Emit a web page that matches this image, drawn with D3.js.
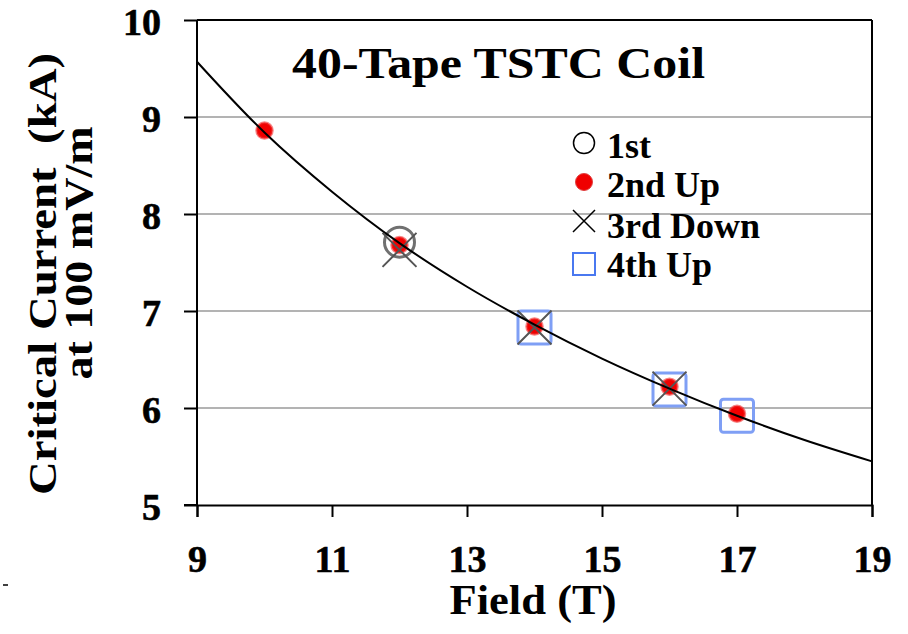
<!DOCTYPE html>
<html><head><meta charset="utf-8">
<script src="https://cdn.jsdelivr.net/npm/d3@7"></script>
<style>body{margin:0;background:#fff}svg{display:block}text{font-family:"Liberation Serif","Times New Roman",serif;font-weight:bold;fill:#000}</style>
</head><body>
<script>
const xTicks = [9, 11, 13, 15, 17, 19];
const yTicks = [5, 6, 7, 8, 9, 10];
const firstX = [12], firstY = [7.71];
const secondX = [10, 12, 14, 16, 17], secondY = [8.86, 7.68, 6.84, 6.22, 5.94];
const thirdX = [12, 14, 16], thirdY = [7.63, 6.83, 6.2];
const fourthX = [14, 16, 17], fourthY = [6.83, 6.19, 5.92];
const fitX = [9, 10, 11, 12, 13, 14, 15, 16, 17, 18, 19];
const fitY = [9.57, 8.84, 8.23, 7.70, 7.25, 6.86, 6.51, 6.20, 5.92, 5.67, 5.45];
const legendLabels = ["1st", "2nd Up", "3rd Down", "4th Up"];

const W = 908, H = 634;
const FONT = '"Liberation Serif","Times New Roman",serif';
const svg = d3.select("body").append("svg").attr("width", W).attr("height", H);
const x = d3.scaleLinear().domain([9, 19]).range([197, 872]);
const y = d3.scaleLinear().domain([5, 10]).range([505, 20]);

// gridlines
svg.append("g").selectAll("line").data(yTicks.filter(v => v > 5 && v < 10)).join("line")
  .attr("x1", x(9)).attr("x2", x(19)).attr("y1", d => y(d)).attr("y2", d => y(d))
  .attr("stroke", "#9a9a9a").attr("stroke-width", 1.5);
// frame
svg.append("line").attr("x1", x(9)).attr("x2", x(19)).attr("y1", y(10)).attr("y2", y(10)).attr("stroke", "#000").attr("stroke-width", 2);
svg.append("line").attr("x1", x(19)).attr("x2", x(19)).attr("y1", y(10)).attr("y2", y(5)).attr("stroke", "#000").attr("stroke-width", 2);

const gy = svg.append("g").attr("transform", `translate(${x(9)},0)`)
  .call(d3.axisLeft(y).tickValues(yTicks).tickSize(13).tickFormat(d3.format("d")));
const gx = svg.append("g").attr("transform", `translate(0,${y(5)})`)
  .call(d3.axisBottom(x).tickValues(xTicks).tickSize(12).tickFormat(d3.format("d")));
[gx, gy].forEach(g => {
  g.attr("font-family", FONT);
  g.select(".domain").attr("stroke", "#000").attr("stroke-width", 2);
  g.selectAll(".tick line").attr("stroke", "#000").attr("stroke-width", 2);
  g.selectAll("text").style("font-family", FONT)
    .style("font-weight", "bold").style("font-size", "38px").attr("fill", "#000")
    .attr("stroke", "#000").attr("stroke-width", 0.6);
});
gx.selectAll(".tick text").attr("y", 67).attr("dy", 0);
gy.select(".domain").attr("d", `M0,${y(5)}V${y(10)}`);
gy.selectAll(".tick text").attr("x", -36).attr("dy", 0).attr("y", 14);
// extend bottom axis line left to tick
svg.append("line").attr("x1", x(9) - 13).attr("x2", x(9)).attr("y1", y(5)).attr("y2", y(5)).attr("stroke", "#000").attr("stroke-width", 2);

// 4th Up squares
const sq = 33;
svg.append("g").selectAll("rect").data(fourthX.map((d, i) => [d, fourthY[i]])).join("rect")
  .attr("x", d => x(d[0]) - sq / 2).attr("y", d => y(d[1]) - sq / 2)
  .attr("width", sq).attr("height", sq).attr("rx", 3)
  .attr("fill", "none").attr("stroke", "#7f9ff5").attr("stroke-width", 3);
// 1st circles
svg.append("g").selectAll("circle").data(firstX.map((d, i) => [d, firstY[i]])).join("circle")
  .attr("cx", d => x(d[0])).attr("cy", d => y(d[1])).attr("r", 15)
  .attr("fill", "none").attr("stroke", "#707070").attr("stroke-width", 3);
// 2nd Up red dots
svg.append("g").selectAll("circle").data(secondX.map((d, i) => [d, secondY[i]])).join("circle")
  .attr("cx", d => x(d[0])).attr("cy", d => y(d[1])).attr("r", 8)
  .attr("fill", "#f00000").attr("stroke", "#f23030").attr("stroke-opacity", 0.6).attr("stroke-width", 2.5);
// 3rd Down X
const xs = 17;
svg.append("g").selectAll("path").data(thirdX.map((d, i) => [d, thirdY[i]])).join("path")
  .attr("d", d => { const cx = x(d[0]), cy = y(d[1]); return `M${cx - xs},${cy - xs}L${cx + xs},${cy + xs}M${cx - xs},${cy + xs}L${cx + xs},${cy - xs}`; })
  .attr("stroke", "#555").attr("stroke-width", 2).attr("fill", "none");
// fit curve
svg.append("path").datum(fitX.map((d, i) => [d, fitY[i]]))
  .attr("d", d3.line().x(d => x(d[0])).y(d => y(d[1])).curve(d3.curveCatmullRom))
  .attr("fill", "none").attr("stroke", "#000").attr("stroke-width", 2);

// title
svg.append("text").attr("x", 498.5).attr("y", 78).attr("text-anchor", "middle").style("font-size", "44px")
  .attr("textLength", 413).attr("lengthAdjust", "spacingAndGlyphs").text("40-Tape TSTC Coil");

// legend
const lx = 584, ly = [143, 182, 221, 264], tx = 607, tb = [158, 197, 238, 277];
svg.append("circle").attr("cx", lx).attr("cy", ly[0]).attr("r", 10.5).attr("fill", "none").attr("stroke", "#000").attr("stroke-width", 1.5);
svg.append("circle").attr("cx", lx).attr("cy", ly[1]).attr("r", 8.5).attr("fill", "#f00000").attr("stroke", "#e04040").attr("stroke-width", 1);
svg.append("path").attr("d", `M${lx - 11},${ly[2] - 11}L${lx + 11},${ly[2] + 11}M${lx - 11},${ly[2] + 11}L${lx + 11},${ly[2] - 11}`).attr("stroke", "#000").attr("stroke-width", 1.5);
svg.append("rect").attr("x", lx - 11).attr("y", ly[3] - 11).attr("width", 22).attr("height", 22).attr("fill", "none").attr("stroke", "#4a78f0").attr("stroke-width", 2);
svg.append("g").selectAll("text").data(legendLabels).join("text")
  .attr("x", tx).attr("y", (d, i) => tb[i]).style("font-size", "36px").text(d => d);

// axis titles
svg.append("text").attr("x", 533).attr("y", 614).attr("text-anchor", "middle").style("font-size", "42px")
  .attr("textLength", 167).attr("lengthAdjust", "spacingAndGlyphs").text("Field (T)");
svg.append("text").attr("transform", "translate(56,274) rotate(-90)").attr("text-anchor", "middle").style("font-size", "40px")
  .attr("xml:space", "preserve").attr("textLength", 442).attr("lengthAdjust", "spacingAndGlyphs").text("Critical Current  (kA)");
svg.append("text").attr("transform", "translate(92,253) rotate(-90)").attr("text-anchor", "middle").style("font-size", "40px")
  .attr("textLength", 253).attr("lengthAdjust", "spacingAndGlyphs").text("at 100 mV/m");

// small stray mark
svg.append("line").attr("x1", 3).attr("x2", 8).attr("y1", 585).attr("y2", 585).attr("stroke", "#000").attr("stroke-width", 1.5);
</script>
</body></html>
